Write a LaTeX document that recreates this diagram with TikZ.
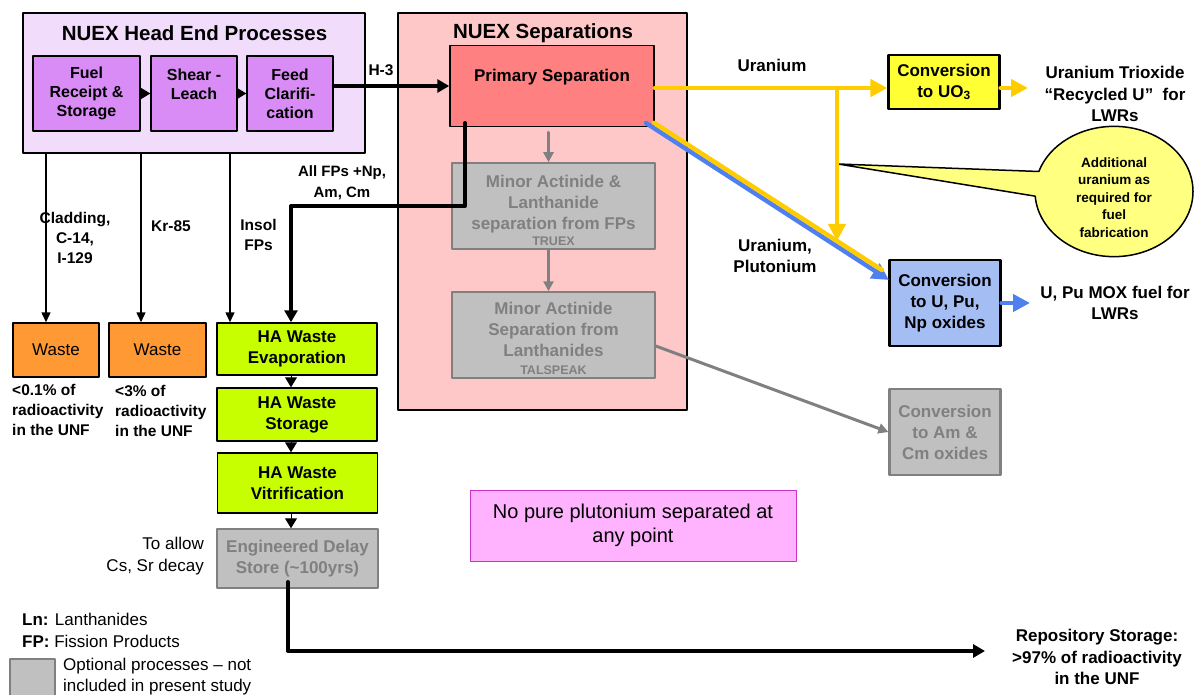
\documentclass[tikz,border=0pt]{standalone}
\usepackage{fontspec}
\setmainfont{Liberation Sans}
\usetikzlibrary{arrows.meta,calc,shapes.callouts}
\definecolor{hepale}{RGB}{242,220,252}
\definecolor{hepurple}{RGB}{217,140,245}
\definecolor{seppale}{RGB}{255,200,200}
\definecolor{sepred}{RGB}{255,128,128}
\definecolor{optfill}{RGB}{192,192,192}
\definecolor{optgrey}{RGB}{128,128,128}
\definecolor{uoyellow}{RGB}{255,255,51}
\definecolor{uline}{RGB}{255,204,0}
\definecolor{pufill}{RGB}{164,190,244}
\definecolor{puline}{RGB}{80,128,240}
\definecolor{wasteor}{RGB}{255,153,51}
\definecolor{hagreen}{RGB}{200,255,0}
\definecolor{notepink}{RGB}{255,179,255}
\definecolor{noteedge}{RGB}{204,51,204}
\definecolor{calyellow}{RGB}{255,255,128}
\newcommand\fsz[2]{\fontsize{#1}{#2}\selectfont}
\begin{document}
\begin{tikzpicture}[x=1pt,y=-1pt,>={Triangle[length=10pt,width=9pt]},line join=round,line cap=round,
	box/.style={draw,line width=1.5pt,inner sep=0pt,align=center,font=\bfseries\fsz{17}{21}},
	procbox/.style={box,fill=hepurple,minimum width=86pt,minimum height=75pt,font=\bfseries\fsz{16}{19}},
	optbox/.style={box,draw=optgrey,fill=optfill,text=optgrey,minimum width=203pt,minimum height=86pt},
	convbox/.style={box,line width=2.2pt,minimum width=111pt,minimum height=86pt},
	wastebox/.style={box,fill=wasteor,minimum height=54pt,font=\fsz{17}{21}},
	habox/.style={box,fill=hagreen,minimum width=160pt},
	lbl/.style={inner sep=0pt,align=center,font=\bfseries\fsz{17}{21.5}},
	sidelbl/.style={inner sep=0pt,align=center,font=\bfseries\fsz{15.5}{20}},
	thinln/.style={line width=1.5pt,->},
	tinyarr/.style={line width=1pt,-{Triangle[length=10pt,width=12pt]}},
	fatln/.style={line width=4pt,-{Triangle[length=12pt,width=13pt]}},
	optln/.style={line width=3pt,optgrey,-{Triangle[length=10pt,width=10pt]}},
	uln/.style={line width=4.5pt,uline,-{Triangle[length=17pt,width=17pt]}},
	puln/.style={line width=4.5pt,puline,-{Triangle[length=17pt,width=17pt]}}]
	\useasboundingbox (0,0) rectangle (1194,695);
	% head end
	\node (heb) [box,fill=hepale,minimum width=342pt,minimum height=140pt] at (194,83) {};
	\node (hettl) at (194.5,33) [font=\bfseries\fsz{20.5}{24}] {NUEX Head End Processes};
	\node (fuel) [procbox,minimum width=107pt] at (86.5,93.5) {Fuel\\Receipt \&\\Storage};
	\node (shear) [procbox] at (194,93.5) {Shear -\\Leach\\\mbox{}};
	\node (feed) [procbox] at (290,93.5) {Feed\\Clarifi-\\cation};
	% separations
	\node (sepb) [box,fill=seppale,minimum width=289pt,minimum height=397pt] at (542.5,211.5) {};
	\node (septtl) at (543,33) [font=\bfseries\fsz{20.5}{24}] {NUEX Separations};
	\node (prim) [box,fill=sepred,minimum width=204pt,minimum height=81pt] at (552,86) {};
	\node (primlbl) at (552,77) [lbl] {Primary Separation};
	\node (mina) [optbox] at (553.5,206) {\rule{0pt}{22pt}Minor Actinide \&\\Lanthanide\\separation from FPs\\[-5pt]{\fsz{12.5}{14}TRUEX}};
	\node (minb) [optbox] at (553.5,335) {\rule{0pt}{20pt}Minor Actinide\\Separation from\\Lanthanides\\[-3pt]{\fsz{12.5}{14}TALSPEAK}};
	% conversions
	\node (cuo) [convbox,fill=uoyellow,minimum height=54pt] at (944,82) {Conversion\\to UO\textsubscript{3}};
	\node (cpu) [convbox,fill=pufill] at (945,303) {Conversion\\to U, Pu,\\Np oxides};
	\node (cam) [optbox,line width=2.2pt,minimum width=111pt] at (945,432) {Conversion\\to Am \&\\Cm oxides};
	\coordinate (utick) at (838,164);
	\node (addu) [ellipse callout,callout absolute pointer={(utick)},callout pointer arc=22,draw,line width=1.5pt,fill=calyellow,
		minimum width=158pt,minimum height=118pt,inner sep=0pt,align=center,font=\bfseries\fsz{13.5}{17.5}] at (1114,191.5)
		{\rule{0pt}{22pt}Additional\\uranium as\\required for\\fuel\\fabrication};
	% waste streams
	\node (wsta) [wastebox,minimum width=86pt] at (56,350) {Waste};
	\node (wstb) [wastebox,minimum width=97pt] at (157.5,350) {Waste};
	\node (haev) [habox,minimum height=52pt] at (297,349) {HA Waste\\Evaporation};
	\node (hast) [habox,minimum height=53pt] at (297,414.5) {HA Waste\\Storage};
	\node (havi) [habox,minimum height=60pt] at (297.5,483) {HA Waste\\Vitrification};
	\node (eds) [optbox,minimum width=161pt,minimum height=59pt] at (297.5,558.5) {Engineered Delay\\Store (\textasciitilde100yrs)};
	\node (notepu) [box,line width=1pt,draw=noteedge,fill=notepink,minimum width=326pt,minimum height=71pt,font=\fsz{20}{24}] at (633,525.5) {No pure plutonium separated at\\any point};
	% labels
	\node (h3) at (381,70) [sidelbl] {H-3};
	\node (cladlbl) at (75,238) [sidelbl] {Cladding,\\C-14,\\I-129};
	\node (krlbl) at (171,226) [sidelbl] {Kr-85};
	\node (inslbl) at (258.5,235) [sidelbl] {Insol\\FPs};
	\node (fplbl) at (342,183) [sidelbl,font=\bfseries\fsz{15}{21}] {All FPs +Np,\\Am, Cm};
	\node (ulbl) at (772,65) [lbl] {Uranium};
	\node (upulbl) at (775,256) [lbl] {Uranium,\\Plutonium};
	\node (uolbl) at (1115,94) [lbl] {Uranium Trioxide\\“Recycled U”\ \ for\\LWRs};
	\node (moxlbl) at (1115,303) [lbl] {U, Pu MOX fuel for\\LWRs};
	\node (repolbl) at (1097,657) [lbl] {Repository Storage:\\>97\% of radioactivity\\in the UNF};
	\node (wstalbl) at (12,384) [sidelbl,anchor=north west,align=left] {<0.1\% of\\radioactivity\\in the UNF};
	\node (wstblbl) at (115,385) [sidelbl,anchor=north west,align=left] {<3\% of\\radioactivity\\in the UNF};
	\node (decaylbl) at (204,556) [anchor=east,align=right,inner sep=0pt,font=\fsz{17}{22}] {To allow\\Cs, Sr decay};
	% key
	\node (lnkey) at (22,619) [anchor=west,inner sep=0pt,font=\fsz{17}{21}] {\textbf{Ln:} Lanthanides};
	\node (fpkey) at (22,641) [anchor=west,inner sep=0pt,font=\fsz{17}{21}] {\textbf{FP:} Fission Products};
	\node (optkey) [optbox,minimum width=45pt,minimum height=38pt] at (32.5,678) {};
	\node (optkeylbl) at (63,677) [anchor=west,align=left,inner sep=0pt,font=\fsz{17}{21}] {Optional processes – not\\included in present study};
	% connectors
	\draw[tinyarr] (fuel) -- (shear);
	\draw[tinyarr] (shear) -- (feed);
	\draw[fatln] (feed.east |- prim.west) -- (prim.west);
	\coordinate (cladx) at (46,153);
	\coordinate (krx) at (141,153);
	\coordinate (insx) at (230,153);
	\draw[thinln] (cladx) -- (cladx |- wsta.north);
	\draw[thinln] (krx) -- (krx |- wstb.north);
	\draw[thinln] (insx) -- (insx |- haev.north);
	\coordinate (fpst) at (465,123);
	\coordinate (fpdn) at (291,206);
	\draw[fatln] (fpst) |- (fpdn) -- (fpdn |- haev.north);
	\draw[tinyarr] (haev.south -| fpdn) -- (hast.north -| fpdn);
	\draw[tinyarr] (hast.south -| fpdn) -- (havi.north -| fpdn);
	\draw[tinyarr] (havi.south -| fpdn) -- (eds.north -| fpdn);
	\coordinate (edsout) at (288,582);
	\coordinate (repoend) at (985,651);
	\draw[fatln] (edsout) |- (repoend);
	\draw[optln] ($(mina.north |- prim.south)+(-5,5)$) -- ($(mina.north)+(-5,0)$);
	\draw[optln] ($(mina.south)+(-5,0)$) -- ($(minb.north)+(-5,0)$);
	\draw[optln] ($(minb.east)+(0,11)$) -- (cam.west);
	% uranium and plutonium streams
	\coordinate (ujn) at (837,88);
	\coordinate (umix) at (837,241);
	\coordinate (pust) at (646,123);
	\coordinate (puend) at (889,280);
	\coordinate (ust) at (654,122.8);
	\coordinate (uend) at (882,270);
	\coordinate (uoend) at (1028,88);
	\coordinate (moxend) at (1030,303);
	\draw[puln] (pust) -- (puend);
	\draw[uln,-] (ust) -- (uend);
	\draw[uln] (prim.east |- ujn) -- (cuo.west |- ujn);
	\draw[uln] (ujn) -- (umix);
	\draw[uln] (cuo.east |- ujn) -- (uoend);
	\draw[puln] (cpu.east) -- (moxend);
\end{tikzpicture}
\end{document}
